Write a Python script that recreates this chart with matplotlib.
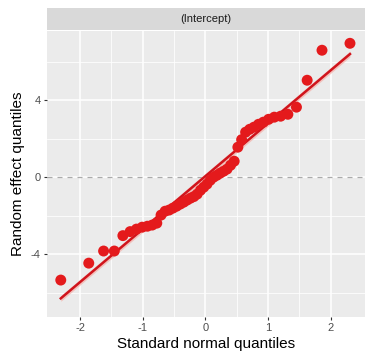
import matplotlib
matplotlib.use('Agg')
import matplotlib.pyplot as plt
import numpy as np

plt.rcParams['font.family'] = ['Liberation Sans', 'DejaVu Sans']
plt.rcParams['axes.unicode_minus'] = False

# normal quantiles (x) and sorted random effects (y)
theo_q = [-2.31, -1.863, -1.626, -1.455, -1.318, -1.202, -1.101, -1.010,
          -0.926, -0.849, -0.776, -0.708, -0.643, -0.579, -0.519, -0.460,
          -0.402, -0.346, -0.292, -0.237, -0.184, -0.131, -0.078, -0.026,
          0.026, 0.078, 0.131, 0.184, 0.237, 0.292, 0.346, 0.402,
          0.460, 0.519, 0.579, 0.643, 0.708, 0.776, 0.849, 0.926,
          1.010, 1.101, 1.202, 1.318, 1.455, 1.626, 1.863, 2.31]
effects = [-5.35, -4.47, -3.84, -3.84, -3.04, -2.83, -2.70, -2.60,
           -2.55, -2.49, -2.39, -1.97, -1.77, -1.71, -1.61, -1.51,
           -1.40, -1.30, -1.19, -1.09, -1.01, -0.88, -0.68, -0.52,
           -0.36, -0.16, 0.00, 0.10, 0.21, 0.31, 0.42, 0.62,
           0.83, 1.56, 1.95, 2.34, 2.49, 2.60, 2.75, 2.86,
           3.01, 3.12, 3.17, 3.27, 3.64, 5.04, 6.60, 6.96]
line_intercept = 0.05
line_slope = 2.75
band_halfwidth = 0.15
facet_label = '(Intercept)'

fig = plt.figure(figsize=(3.73, 3.63), dpi=100)
ax = fig.add_axes([47 / 373, 46 / 363, 318 / 373, 286 / 363])
ax.set_facecolor('#EBEBEB')
for s in ax.spines.values():
    s.set_visible(False)

ax.set_xlim(-2.53, 2.55)
ax.set_ylim(-7.27, 7.6)
ax.set_xticks([-2, -1, 0, 1, 2])
ax.set_xticks([-1.5, -0.5, 0.5, 1.5], minor=True)
ax.set_yticks([-4, 0, 4])
ax.set_yticks([-6, -2, 2, 6], minor=True)
ax.grid(which='major', color='white', linewidth=1.1)
ax.grid(which='minor', color='white', linewidth=0.55)
ax.set_axisbelow(True)
ax.tick_params(which='major', length=2.5, width=0.8, color='#333333',
               labelcolor='#4D4D4D', labelsize=8, pad=2)
ax.tick_params(which='minor', length=0)

ax.axhline(0, color='#AAAAAA', linestyle=(0, (4, 4)), linewidth=0.9, zorder=1)

xs = np.array([theo_q[0], theo_q[-1]])
ys = line_intercept + line_slope * xs
ax.fill_between(xs, ys - band_halfwidth, ys + band_halfwidth,
                color='#F4B6B0', alpha=0.8, linewidth=0, zorder=2)
ax.plot(xs, ys, color='#D0141C', linewidth=1.8, zorder=3)
ax.scatter(theo_q, effects, s=62, color='#E41A1C', edgecolors='none', zorder=4)

ax.set_xlabel('Standard normal quantiles', fontsize=11, color='black', labelpad=3)
ax.set_ylabel('Random effect quantiles', fontsize=11, color='black', labelpad=4)

strip = fig.add_axes([47 / 373, 333 / 363, 318 / 373, 22 / 363])
strip.set_facecolor('#D9D9D9')
strip.set_xticks([])
strip.set_yticks([])
for s in strip.spines.values():
    s.set_visible(False)
strip.text(0.5, 0.5, facet_label, ha='center', va='center',
           fontsize=8, color='#1A1A1A', transform=strip.transAxes)

fig.savefig('out.png', dpi=100)
